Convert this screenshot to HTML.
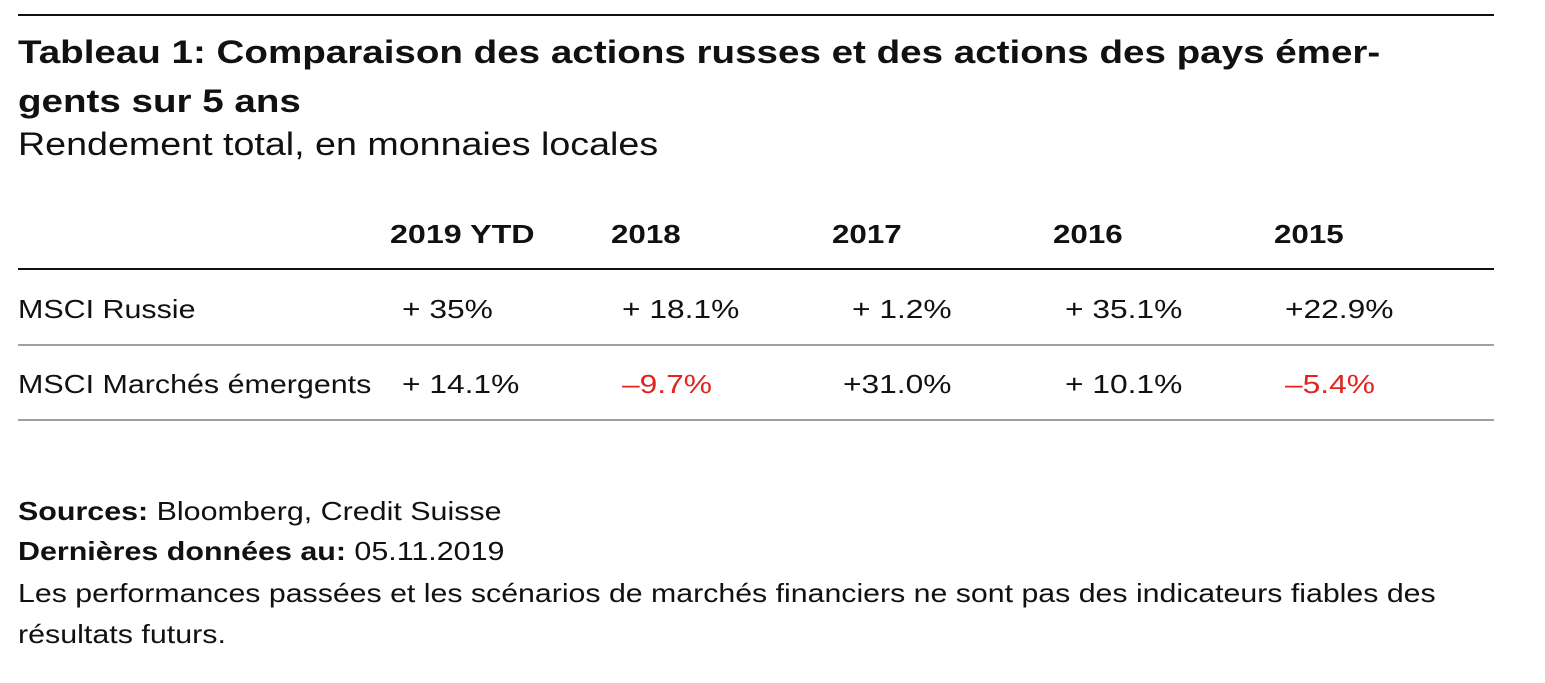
<!DOCTYPE html>
<html><head><meta charset="utf-8"><style>
body{margin:0;background:#fff;width:1545px;height:683px;position:relative;overflow:hidden;font-family:"Liberation Sans",Arial,sans-serif;color:#111}
.t{position:absolute;white-space:nowrap;line-height:1;transform-origin:0 0;transform:scaleX(1.17)}
.b{font-weight:bold;transform:scaleX(1.205)}
.n{transform:scaleX(1.22)}
.r{color:#e2241f}
.l{position:absolute;left:18px;width:1476px}
</style></head><body>
<div class="l" style="top:14px;height:2px;background:#111"></div>
<div class="t b" style="left:18px;top:36px;font-size:32px">Tableau 1: Comparaison des actions russes et des actions des pays émer-</div>
<div class="t b" style="left:18px;top:85px;font-size:32px">gents sur 5 ans</div>
<div class="t" style="left:18px;top:128px;font-size:32px;transform:scaleX(1.176)">Rendement total, en monnaies locales</div>

<div class="t b" style="left:390px;top:221px;font-size:26px;transform:scaleX(1.24)">2019 YTD</div>
<div class="t b" style="left:611px;top:221px;font-size:26px">2018</div>
<div class="t b" style="left:832px;top:221px;font-size:26px">2017</div>
<div class="t b" style="left:1053px;top:221px;font-size:26px">2016</div>
<div class="t b" style="left:1274px;top:221px;font-size:26px">2015</div>
<div class="l" style="top:268px;height:2px;background:#111"></div>

<div class="t" style="left:18px;top:296px;font-size:26px">MSCI Russie</div>
<div class="t n" style="left:402px;top:296px;font-size:26px">+ 35%</div>
<div class="t n" style="left:622px;top:296px;font-size:26px">+ 18.1%</div>
<div class="t n" style="left:852px;top:296px;font-size:26px">+ 1.2%</div>
<div class="t n" style="left:1065px;top:296px;font-size:26px">+ 35.1%</div>
<div class="t n" style="left:1285px;top:296px;font-size:26px">+22.9%</div>
<div class="l" style="top:344px;height:2px;background:#a0a0a0"></div>

<div class="t" style="left:18px;top:371px;font-size:26px">MSCI Marchés émergents</div>
<div class="t n" style="left:402px;top:371px;font-size:26px">+ 14.1%</div>
<div class="t n r" style="left:622px;top:371px;font-size:26px">–9.7%</div>
<div class="t n" style="left:843px;top:371px;font-size:26px">+31.0%</div>
<div class="t n" style="left:1065px;top:371px;font-size:26px">+ 10.1%</div>
<div class="t n r" style="left:1285px;top:371px;font-size:26px">–5.4%</div>
<div class="l" style="top:419px;height:2px;background:#a0a0a0"></div>

<div class="t" style="left:18px;top:498px;font-size:26px"><b>Sources:</b> Bloomberg, Credit Suisse</div>
<div class="t" style="left:18px;top:538px;font-size:26px"><b>Dernières données au:</b> 05.11.2019</div>
<div class="t" style="left:18px;top:580px;font-size:26px;transform:scaleX(1.165)">Les performances passées et les scénarios de marchés financiers ne sont pas des indicateurs fiables des</div>
<div class="t" style="left:18px;top:621px;font-size:26px">résultats futurs.</div>
</body></html>
